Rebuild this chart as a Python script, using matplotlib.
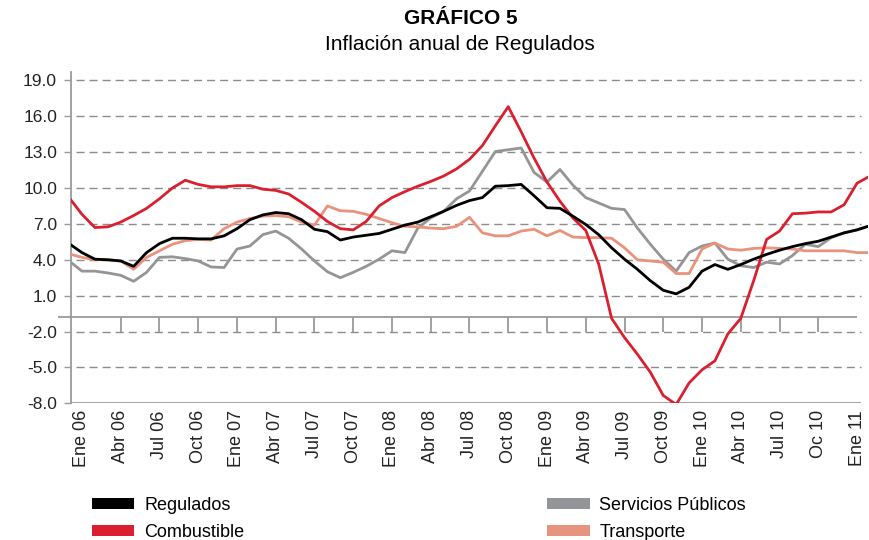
import numpy as np
import matplotlib.pyplot as plt
from matplotlib.patches import Patch

plt.rcParams['font.family'] = ['Liberation Sans', 'DejaVu Sans']

# indice de mes: -1 = Dic 05, 0 = Ene 06, ..., 61 = Feb 11
meses = np.arange(-1, 62)

regulados = [5.35, 4.6, 4.05, 4.0, 3.9, 3.45, 4.6, 5.35, 5.8, 5.8,
             5.75, 5.75, 6.0, 6.6, 7.35, 7.75, 7.95, 7.85, 7.35, 6.55,
             6.35, 5.65, 5.9, 6.05, 6.2, 6.55, 6.9, 7.15, 7.6, 8.05,
             8.55, 8.95, 9.2, 10.15, 10.2, 10.3, 9.35, 8.35, 8.3, 7.65,
             6.95, 6.1, 5.0, 4.05, 3.2, 2.25, 1.45, 1.15, 1.7, 3.05,
             3.6, 3.2, 3.6, 4.05, 4.45, 4.8, 5.1, 5.35, 5.55, 5.9,
             6.25, 6.5, 6.85]

combustible = [9.2, 7.8, 6.7, 6.75, 7.15, 7.7, 8.3, 9.1, 10.0, 10.65,
               10.3, 10.1, 10.1, 10.2, 10.2, 9.9, 9.8, 9.5, 8.8, 8.05,
               7.2, 6.6, 6.5, 7.2, 8.5, 9.2, 9.7, 10.15, 10.55, 11.0,
               11.6, 12.4, 13.55, 15.2, 16.8, 14.7, 12.5, 10.5, 8.9, 7.5,
               6.45, 3.65, -0.9, -2.5, -3.9, -5.4, -7.35, -8.1, -6.3, -5.2,
               -4.45, -2.2, -0.9, 2.25, 5.7, 6.4, 7.85, 7.9, 8.0, 8.0,
               8.6, 10.4, 11.0]

servicios = [3.9, 3.05, 3.05, 2.9, 2.7, 2.2, 2.95, 4.2, 4.25, 4.1,
             3.9, 3.4, 3.35, 4.9, 5.15, 6.1, 6.4, 5.8, 4.9, 3.9,
             3.0, 2.5, 2.95, 3.45, 4.05, 4.75, 4.6, 6.65, 7.5, 8.05,
             9.1, 9.75, 11.4, 13.05, 13.2, 13.35, 11.3, 10.5, 11.55, 10.25,
             9.2, 8.75, 8.3, 8.2, 6.65, 5.3, 4.05, 3.05, 4.6, 5.15,
             5.4, 4.05, 3.5, 3.35, 3.8, 3.65, 4.35, 5.3, 5.1, 5.85,
             6.25, 6.5, 6.85]

transporte = [4.5, 4.2, 4.0, 4.0, 3.9, 3.2, 4.2, 4.75, 5.3, 5.6,
              5.7, 5.65, 6.6, 7.15, 7.45, 7.65, 7.7, 7.6, 7.15, 6.9,
              8.5, 8.1, 8.05, 7.8, 7.45, 7.1, 6.8, 6.75, 6.65, 6.6,
              6.8, 7.55, 6.25, 6.0, 6.0, 6.4, 6.55, 6.0, 6.45, 5.9,
              5.85, 5.85, 5.8, 5.0, 4.0, 3.9, 3.8, 2.85, 2.85, 4.9,
              5.4, 4.9, 4.8, 4.95, 5.0, 4.95, 4.9, 4.75, 4.75, 4.75,
              4.75, 4.6, 4.6]

etiquetas = ['Ene 06', 'Abr 06', 'Jul 06', 'Oct 06', 'Ene 07', 'Abr 07', 'Jul 07',
             'Oct 07', 'Ene 08', 'Abr 08', 'Jul 08', 'Oct 08', 'Ene 09', 'Abr 09',
             'Jul 09', 'Oct 09', 'Ene 10', 'Abr 10', 'Jul 10', 'Oc 10', 'Ene 11']
pos_etiquetas = np.arange(0, 61, 3)
niveles_y = [19, 16, 13, 10, 7, 4, 1, -2, -5, -8]

gris_eje = '#9a9a9a'
gris_grid = '#8c8c8c'

fig = plt.figure(figsize=(8.7, 5.4), dpi=100)
ax = fig.add_axes([71 / 870, 1 - 403.3 / 540, (868 - 71) / 870, (403.3 - 72) / 540])
ax.set_xlim(-0.85, 60.85)
ax.set_ylim(-8, 19.7)

# lineas de la grilla
for v in niveles_y[:-1]:
    ax.hlines(v, -0.45, 60.3, colors=gris_grid, linewidth=1.0,
              linestyles=(0, (5.8, 3.6)), zorder=1)
ax.hlines(-8, -0.85, 60.3, colors=gris_eje, linewidth=1.3, zorder=1)

# eje horizontal con marcas
ax.hlines(-0.8, -1.86, 60.0, colors=gris_eje, linewidth=1.3, clip_on=False, zorder=1)
ax.vlines(pos_etiquetas[1:-1], -2.05, -0.8, colors=gris_eje, linewidth=1.3, zorder=1)

ax.plot(meses, servicios, color='#959595', linewidth=2.0, zorder=3)
ax.plot(meses, transporte, color='#ea927b', linewidth=2.0, zorder=3)
ax.plot(meses, combustible, color='#da1f2e', linewidth=2.0, zorder=4)
ax.plot(meses, regulados, color='#000000', linewidth=2.0, zorder=5)

ax.set_yticks(niveles_y)
ax.set_yticklabels(['%.1f' % v for v in niveles_y], fontsize=12.5, color='#222222')
ax.set_xticks(pos_etiquetas)
ax.set_xticklabels(etiquetas, rotation=90, fontsize=13, color='#222222')
ax.tick_params(axis='y', length=5, width=1, color=gris_eje, pad=5)
ax.tick_params(axis='x', length=0, pad=5)

for s in ['top', 'right', 'bottom']:
    ax.spines[s].set_visible(False)
ax.spines['left'].set_color(gris_eje)
ax.spines['left'].set_linewidth(1.3)

fig.text(461 / 870, 1 - 19 / 540, 'GRÁFICO 5', fontsize=15, fontweight='bold',
         ha='center', va='center')
fig.text(460 / 870, 1 - 45 / 540, 'Inflación anual de Regulados', fontsize=15,
         ha='center', va='center')

handles = [Patch(facecolor='#000000'), Patch(facecolor='#da202f'),
           Patch(facecolor='#939598'), Patch(facecolor='#e8937d')]
nombres = ['Regulados', 'Combustible', 'Servicios Públicos', 'Transporte']
fig.legend(handles, nombres, ncol=2, loc='upper left',
           bbox_to_anchor=(92 / 870, 1 - 497 / 540), frameon=False,
           fontsize=13, handlelength=2.33, handleheight=0.55,
           handletextpad=0.55, columnspacing=16.8, labelspacing=0.55,
           borderpad=0, borderaxespad=0)

fig.savefig('out.png', dpi=100)
